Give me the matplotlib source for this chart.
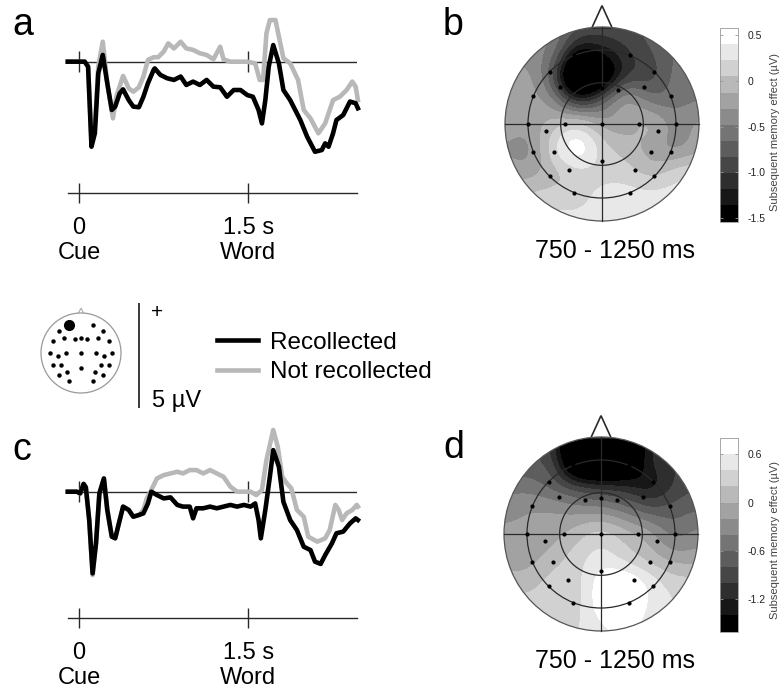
import numpy as np
import matplotlib
matplotlib.use("Agg")
import matplotlib.pyplot as plt
from matplotlib.lines import Line2D
from matplotlib.patches import Circle, Polygon

plt.rcParams["font.family"] = ["Liberation Sans", "DejaVu Sans"]

# ERP waveforms: time (s from cue onset), amplitude (µV, positive up)
a_rec_t = [-0.10, 0.05, 0.08, 0.11, 0.14, 0.17, 0.21, 0.25, 0.29, 0.32,
           0.36, 0.39, 0.44, 0.48, 0.53, 0.57, 0.61, 0.66, 0.67, 0.72,
           0.78, 0.84, 0.90, 0.95, 1.01, 1.07, 1.13, 1.19, 1.25, 1.31,
           1.37, 1.43, 1.49, 1.54, 1.59, 1.62, 1.65, 1.68, 1.72, 1.77,
           1.81, 1.87, 1.96, 2.02, 2.09, 2.15, 2.18, 2.21, 2.25, 2.28,
           2.34, 2.40, 2.45, 2.47]
a_rec_v = [0, 0, -0.24, -4.05, -3.41, -0.56, 0.32, -1.03, -2.30, -2.14,
           -1.51, -1.32, -1.83, -2.14, -2.17, -1.67, -1.03, -0.40, -0.32, -0.63,
           -0.79, -0.87, -0.71, -1.11, -0.95, -1.11, -0.87, -1.19, -1.22, -1.67,
           -1.35, -1.35, -1.59, -1.67, -2.30, -2.94, -1.83, -0.24, 0.79, -0.08,
           -1.35, -1.83, -2.78, -3.57, -4.29, -4.21, -3.89, -4.05, -3.41, -2.78,
           -2.54, -1.90, -1.98, -2.22]
a_not_t = [-0.10, 0.05, 0.08, 0.11, 0.14, 0.17, 0.21, 0.25, 0.30, 0.33,
           0.39, 0.44, 0.48, 0.53, 0.57, 0.61, 0.66, 0.70, 0.75, 0.79,
           0.84, 0.90, 0.95, 1.01, 1.07, 1.13, 1.19, 1.25, 1.28, 1.34,
           1.49, 1.56, 1.60, 1.63, 1.66, 1.69, 1.74, 1.77, 1.81, 1.87,
           1.94, 1.99, 2.05, 2.12, 2.18, 2.25, 2.31, 2.37, 2.42, 2.45, 2.47]
a_not_v = [0, 0, -0.24, -3.73, -3.10, -0.24, 0.95, -1.03, -2.70, -1.67,
           -0.68, -1.27, -1.43, -1.22, -0.71, 0.08, 0.21, 0.21, 0.48, 0.87,
           0.63, 0.95, 0.63, 0.56, 0.40, 0.32, 0.11, 0.71, 0.11, 0,
           0, -0.08, -0.87, -0.87, 1.35, 1.98, 1.98, 1.19, 0.16, -0.08,
           -0.87, -2.30, -2.70, -3.41, -2.94, -1.83, -1.67, -1.35, -0.95, -1.19, -1.83]

c_rec_t = [-0.10, -0.02, 0.01, 0.04, 0.06, 0.09, 0.12, 0.15, 0.18, 0.22,
           0.25, 0.29, 0.32, 0.36, 0.39, 0.44, 0.48, 0.53, 0.57, 0.61,
           0.64, 0.69, 0.75, 0.81, 0.87, 0.92, 0.98, 1.01, 1.04, 1.10,
           1.16, 1.22, 1.28, 1.34, 1.40, 1.46, 1.52, 1.56, 1.59, 1.61,
           1.65, 1.69, 1.72, 1.77, 1.81, 1.87, 1.93, 1.99, 2.05, 2.09,
           2.14, 2.18, 2.24, 2.28, 2.34, 2.40, 2.45, 2.47]
c_rec_v = [0, 0, -0.08, 0.37, 0.21, -1.35, -3.89, -2.46, -0.08, 0.63,
           -0.87, -2.14, -2.22, -1.35, -0.71, -0.87, -1.19, -1.11, -1.03, -0.56,
           0, -0.16, -0.32, -0.27, -0.63, -0.71, -0.71, -1.27, -0.79, -0.79,
           -0.71, -0.79, -0.71, -0.63, -0.71, -0.63, -0.71, -0.56, -1.35, -2.22,
           -0.87, 0.71, 1.98, 1.19, -0.48, -1.35, -1.83, -2.62, -2.78, -3.33,
           -3.44, -3.02, -2.46, -1.98, -1.90, -1.51, -1.27, -1.35]
c_not_t = [-0.10, -0.02, 0.01, 0.04, 0.06, 0.09, 0.12, 0.15, 0.18, 0.22,
           0.25, 0.29, 0.32, 0.36, 0.39, 0.44, 0.48, 0.53, 0.57, 0.60,
           0.64, 0.69, 0.75, 0.81, 0.87, 0.92, 0.98, 1.04, 1.10, 1.16,
           1.22, 1.28, 1.34, 1.40, 1.52, 1.57, 1.62, 1.66, 1.70, 1.72,
           1.76, 1.80, 1.84, 1.88, 1.93, 1.99, 2.03, 2.11, 2.18, 2.22,
           2.27, 2.30, 2.33, 2.37, 2.42, 2.46, 2.47]
c_not_v = [0, 0, -0.08, 0.37, 0.21, -1.35, -3.97, -2.46, -0.08, 0.63,
           -0.87, -2.14, -2.22, -1.35, -0.71, -0.87, -1.19, -1.11, -0.87, -0.32,
           0.08, 0.63, 0.79, 0.87, 0.95, 0.87, 1.03, 1.03, 0.87, 1.03,
           0.87, 0.71, 0.24, 0, 0, -0.16, 0.08, 1.51, 2.46, 2.94,
           2.14, 0.71, 0.40, 0.16, -0.87, -1.19, -2.14, -2.38, -2.22, -1.83,
           -0.63, -0.87, -1.35, -1.03, -0.87, -0.63, -0.71]

time_ticks = [0, 1.5]
time_labels = ["0\nCue", "1.5 s\nWord"]
scale_uv = 5
legend_labels = ["Recollected", "Not recollected"]

# electrode montage (head radius = 1, nose up)
elec_x = [-0.29, 0.29, -0.54, 0.54, -0.43, -0.16, 0.0, 0.16, 0.43, -0.71, 0.71,
          -0.765, -0.385, 0.0, 0.385, 0.765, -0.575, 0.575, -0.71, -0.50, 0.50, 0.71,
          -0.34, 0.0, 0.34, -0.54, 0.54, -0.29, 0.29]
elec_y = [0.71, 0.71, 0.54, 0.54, 0.385, 0.35, 0.37, 0.35, 0.385, 0.29, 0.29,
          0.0, 0.0, 0.0, 0.0, 0.0, -0.07, -0.07, -0.29, -0.29, -0.29, -0.29,
          -0.47, -0.385, -0.47, -0.54, -0.54, -0.71, -0.71]
marked_electrode = 0

# subsequent memory effect (µV) sampled on a 9x9 grid, rows from front (y=1) to back (y=-1)
grid_pos = [-1.0, -0.75, -0.5, -0.25, 0.0, 0.25, 0.5, 0.75, 1.0]
b_effect = [
    [-0.30, -0.35, -0.50, -0.75, -0.85, -0.85, -0.75, -0.60, -0.55],
    [-0.35, -0.40, -0.55, -1.45, -1.30, -1.05, -0.85, -0.65, -0.55],
    [-0.30, -0.25, -0.85, -2.40, -1.90, -1.05, -0.95, -0.60, -0.50],
    [-0.30, -0.22, -0.45, -1.20, -0.80, -0.22, -0.60, -0.57, -0.50],
    [-0.22, -0.22, -0.04, 0.14, -0.22, -0.22, -0.04, -0.39, -0.22],
    [-0.30, -0.39, 0.20, 0.60, 0.14, -0.04, -0.22, -0.39, -0.20],
    [-0.20, -0.22, -0.04, 0.14, 0.14, 0.14, -0.04, 0.14, 0.25],
    [0.00, 0.10, 0.14, 0.14, 0.31, 0.31, 0.31, 0.30, 0.30],
    [0.20, 0.25, 0.30, 0.30, 0.30, 0.30, 0.30, 0.30, 0.30],
]
d_effect = [
    [-0.70, -0.80, -1.10, -2.20, -2.30, -2.20, -1.20, -1.10, -1.00],
    [-0.70, -0.80, -0.90, -2.30, -2.40, -2.10, -1.20, -1.00, -0.90],
    [-0.50, -0.50, -0.70, -1.00, -1.15, -1.20, -1.35, -1.00, -0.80],
    [-0.30, -0.20, -0.20, -0.30, -0.30, -0.50, -0.75, -0.70, -0.60],
    [-0.15, -0.15, -0.10, 0.10, 0.30, 0.10, -0.10, -0.50, -0.30],
    [-0.10, -0.10, 0.10, 0.30, 0.50, 0.30, 0.10, -0.10, -0.10],
    [0.10, 0.10, 0.30, 0.30, 0.75, 0.85, 0.55, 0.30, 0.30],
    [0.30, 0.30, 0.30, 0.30, 0.75, 0.85, 0.55, 0.40, 0.40],
    [0.30, 0.30, 0.30, 0.40, 0.50, 0.60, 0.50, 0.40, 0.40],
]
b_range = (-1.54, 0.58)
d_range = (-1.60, 0.80)
b_ticks = [0.5, 0, -0.5, -1.0, -1.5]
b_ticklabels = ["0.5", "0", "-0.5", "-1.0", "-1.5"]
d_ticks = [0.6, 0, -0.6, -1.2]
d_ticklabels = ["0.6", "0", "-0.6", "-1.2"]
n_bands = 12

W, H = 783, 691
UV_PX = 21.0
GRAY = "#b8b8b8"
INK = "#2a2a2a"

fig = plt.figure(figsize=(W / 100, H / 100), dpi=100)


def add_px_axes(left, top, right, bottom):
    return fig.add_axes([left / W, 1 - bottom / H, (right - left) / W, (bottom - top) / H])


def fig_text(x, y, s, **kw):
    fig.text(x / W, 1 - y / H, s, **kw)


def cubic_weights(nodes, pts):
    # Catmull-Rom weights mapping grid samples onto the fine points
    nodes = np.asarray(nodes)
    n, h = len(nodes), nodes[1] - nodes[0]
    u = (pts - nodes[0]) / h
    i = np.clip(np.floor(u).astype(int), 0, n - 2)
    s = u - i
    wts = [(-s**3 + 2 * s**2 - s) / 2, (3 * s**3 - 5 * s**2 + 2) / 2,
           (-3 * s**3 + 4 * s**2 + s) / 2, (s**3 - s**2) / 2]
    M = np.zeros((len(pts), n))
    rows = np.arange(len(pts))
    for k, w in zip((-1, 0, 1, 2), wts):
        np.add.at(M, (rows, np.clip(i + k, 0, n - 1)), w)
    return M


def smoothing(pts, sigma):
    G = np.exp(-((pts[:, None] - pts[None, :]) ** 2) / (2 * sigma**2))
    return G / G.sum(axis=1, keepdims=True)


def erp_panel(top_px, axis_px, v_axis, rec, notrec):
    ax = add_px_axes(68, top_px, 357, axis_px)
    ax.patch.set_visible(False)
    ax.set_xlim(-0.098, 2.462)
    ax.set_ylim(v_axis, v_axis + (axis_px - top_px) / UV_PX)
    ax.axhline(0, color=INK, lw=1.0, zorder=1)
    ax.vlines(time_ticks, -0.5, 0.5, color=INK, lw=1.0, zorder=1)
    ax.plot(*notrec, color=GRAY, lw=3.3, clip_on=False, zorder=2)
    ax.plot(*rec, color="black", lw=3.3, clip_on=False, zorder=3)
    for side in ("top", "left", "right"):
        ax.spines[side].set_visible(False)
    ax.spines["bottom"].set_color(INK)
    ax.spines["bottom"].set_linewidth(1.0)
    ax.set_yticks([])
    ax.set_xticks(time_ticks, time_labels)
    ax.tick_params(axis="x", direction="inout", length=15, width=1.0, color=INK,
                   labelsize=17, pad=10)
    for lab in ax.get_xticklabels():
        lab.set_linespacing(1.2)
    return ax


def topo_panel(cx, cy, effect, vrange, ticks, ticklabels, label_y):
    r = 97
    ax = add_px_axes(cx - 1.25 * r, cy - 1.25 * r, cx + 1.25 * r, cy + 1.25 * r)
    ax.set_xlim(-1.25, 1.25)
    ax.set_ylim(-1.25, 1.25)
    ax.axis("off")
    fine = np.linspace(-1.02, 1.02, 241)
    M = smoothing(fine, 0.09) @ cubic_weights(grid_pos, fine)
    z = np.asarray(effect, dtype=float)[::-1]  # rows ascending in y
    field = M @ z @ M.T
    levels = np.linspace(vrange[0], vrange[1], n_bands + 1)
    field = np.clip(field, levels[0] + 1e-6, levels[-1] - 1e-6)
    grays = [str(g) for g in np.linspace(0, 1, n_bands)]
    cs = ax.contourf(fine, fine, field, levels=levels, colors=grays)
    cs.set_clip_path(Circle((0, 0), 1, transform=ax.transData))

    ax.add_patch(Polygon([(-0.105, 0.99), (0, 1.22), (0.105, 0.99)], closed=True,
                         fc="white", ec=INK, lw=1.2, zorder=4))
    for rr, col in ((1.0, "#555555"), (0.763, INK), (0.426, INK)):
        ax.add_patch(Circle((0, 0), rr, fill=False, ec=col, lw=0.9, zorder=5))
    ax.plot([-1, 1], [0, 0], color=INK, lw=0.9, zorder=5)
    ax.plot([0, 0], [-1, 1], color=INK, lw=0.9, zorder=5)
    ax.plot(elec_x, elec_y, "o", ms=2.0, color="black", zorder=6)

    cax = add_px_axes(720, cy - 96, 738, cy + 97.5)
    cb = fig.colorbar(cs, cax=cax)
    cb.set_ticks(ticks, labels=ticklabels)
    cb.outline.set_edgecolor("#999999")
    cb.outline.set_linewidth(0.6)
    cax.tick_params(left=True, right=True, direction="in", length=2.5, width=0.6,
                    color="#999999", labelsize=7.5, labelcolor="#222222", pad=7)
    fig_text(775, label_y, "Subsequent memory effect (µV)", rotation=90,
             ha="center", va="center", fontsize=8, color="#444444")
    fig_text(615, cy + 134, "750 - 1250 ms", ha="center", va="baseline", fontsize=18)
    return ax


erp_panel(10, 192.7, -6.24, (a_rec_t, a_rec_v), (a_not_t, a_not_v))
erp_panel(426, 617.7, -6.0, (c_rec_t, c_rec_v), (c_not_t, c_not_v))

topo_panel(602, 124, b_effect, b_range, b_ticks, b_ticklabels, 132)
topo_panel(601, 534, d_effect, d_range, d_ticks, d_ticklabels, 540)

# electrode location icon
icon = add_px_axes(81 - 50, 353 - 50, 81 + 50, 353 + 50)
icon.set_xlim(-1.25, 1.25)
icon.set_ylim(-1.25, 1.25)
icon.axis("off")
icon.add_patch(Polygon([(-0.07, 0.99), (0, 1.12), (0.07, 0.99)], closed=False,
                       fill=False, ec="#aaaaaa", lw=0.8))
icon.add_patch(Circle((0, 0), 1, fill=False, ec="#999999", lw=0.9))
icon.plot(elec_x, elec_y, "o", ms=2.2, color="black")
icon.plot(elec_x[marked_electrode], elec_y[marked_electrode], "o", ms=7, color="black")

# amplitude scale bar
sb = add_px_axes(129, 295, 149, 412)
sb.set_xlim(-1, 1)
sb.set_ylim(-(412 - 407.7) / UV_PX, (407.7 - 295) / UV_PX)
sb.axis("off")
sb.vlines(0, 0, scale_uv, color=INK, lw=1.3)
fig_text(157.5, 312, "+", ha="center", va="center", fontsize=15)
fig_text(151.5, 406.5, f"{scale_uv} µV", ha="left", va="baseline", fontsize=17)

handles = [Line2D([], [], color="black", lw=3.3), Line2D([], [], color=GRAY, lw=3.3)]
fig.legend(handles, legend_labels, loc="center left",
           bbox_to_anchor=(216.5 / W, 1 - 357.5 / H), frameon=False, fontsize=17.5,
           handlelength=1.7, handletextpad=0.5, labelspacing=0.3,
           borderpad=0, borderaxespad=0)

for x, y, s in ((12, 35, "a"), (443, 35, "b"), (12, 460, "c"), (443, 458, "d")):
    fig_text(x, y, s, fontsize=27, va="baseline", ha="left")

fig.savefig("out.png", dpi=100)
